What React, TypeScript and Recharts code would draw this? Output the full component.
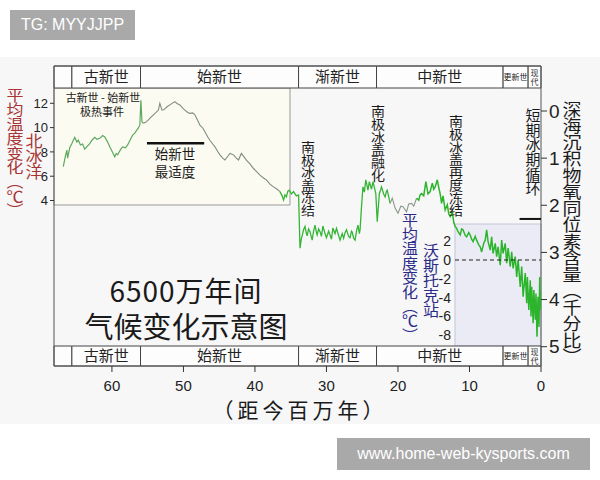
import React from 'react';
import { ComposedChart, Line, XAxis, YAxis, ReferenceArea, ReferenceLine } from 'recharts';

const CJK = "'Noto Sans CJK SC', 'Noto Sans', sans-serif";
const LATIN = "'Liberation Sans', Arial, sans-serif";

const ageTicks = [60, 50, 40, 30, 20, 10, 0];
const arcticTempTicks = [4, 6, 8, 10, 12];
const isotopeTicks = [0, 1, 2, 3, 4, 5];
const vostokTicks = [2, 0, -2, -4, -6, -8];

// geologic epochs (million years ago)
const epochs = [
  { name: '', from: 68.1, to: 65.6 },
  { name: '古新世', from: 65.6, to: 56 },
  { name: '始新世', from: 56, to: 33.9 },
  { name: '渐新世', from: 33.9, to: 23 },
  { name: '中新世', from: 23, to: 5.3 },
  { name: '更新世', from: 5.3, to: 1.8 },
  { name: '现代', from: 1.8, to: 0 },
];

// deep-sea d18O, [age Ma, per mil]
const paleoceneCurve: [number, number][] = [
  [66.8, 1.18], [66.5, 0.95], [66.3, 0.83], [66.2, 1.0], [65.9, 0.78], [65.6, 0.69], [65.4, 0.62],
  [65.2, 0.56], [64.9, 0.66], [64.7, 0.62], [64.4, 0.72], [64.1, 0.7], [63.8, 0.81], [63.4, 0.74],
  [63.1, 0.69], [62.8, 0.62], [62.4, 0.56], [62.1, 0.6], [61.7, 0.58], [61.3, 0.52], [61.0, 0.55],
  [60.6, 0.66], [60.3, 0.76], [59.9, 0.88], [59.6, 0.97], [59.4, 0.9], [59.2, 0.93], [58.8, 0.82],
  [58.5, 0.76], [58.1, 0.78], [57.8, 0.72], [57.4, 0.6], [57.1, 0.51], [56.8, 0.47], [56.5, 0.4],
  [56.3, 0.36], [56.1, 0.3], [55.95, -0.23], [55.8, 0.23], [55.6, 0.26],
];

const eoceneCurve: [number, number][] = [
  [55.6, 0.26], [55.3, 0.24], [54.9, 0.19], [54.6, 0.14], [54.2, 0.08], [53.9, 0.04], [53.5, -0.02],
  [53.3, -0.16], [53.0, -0.02], [52.8, -0.02], [52.5, -0.06], [52.3, -0.09], [51.8, -0.14],
  [51.2, -0.2], [50.9, -0.16], [50.5, -0.13], [50.1, -0.06], [49.8, -0.02], [49.4, 0.03], [49.1, 0.05],
  [48.7, 0.04], [48.4, 0.08], [48.0, 0.2], [47.7, 0.3], [47.3, 0.36], [47.0, 0.44], [46.6, 0.55],
  [46.3, 0.62], [45.9, 0.7], [45.6, 0.76], [45.2, 0.86], [44.9, 0.93], [44.5, 1.0], [44.2, 1.04],
  [43.8, 0.96], [43.5, 0.9], [43.0, 0.93], [42.6, 1.0], [42.3, 1.04], [41.9, 0.9], [41.5, 0.98],
  [41.2, 1.04], [40.7, 1.12], [40.2, 1.22], [39.8, 1.28], [39.3, 1.36], [38.8, 1.42], [38.4, 1.46],
  [37.9, 1.55], [37.4, 1.61], [36.9, 1.66], [36.5, 1.71],
];

const oligoceneCurve: [number, number][] = [
  [36.5, 1.71], [36.2, 1.8], [36.0, 1.89], [35.8, 1.78], [35.6, 1.82], [35.4, 1.7], [35.2, 1.68],
  [34.9, 1.76], [34.6, 1.71], [34.2, 1.8], [33.9, 1.78], [33.7, 2.91], [33.5, 2.7], [33.4, 2.65],
  [33.2, 2.52], [33.0, 2.45], [32.8, 2.6], [32.7, 2.65], [32.5, 2.5], [32.3, 2.56], [32.1, 2.68],
  [32.0, 2.74], [31.8, 2.55], [31.6, 2.42], [31.4, 2.58], [31.3, 2.63], [31.1, 2.5], [30.9, 2.56],
  [30.7, 2.66], [30.5, 2.44], [30.2, 2.6], [30.0, 2.69], [29.7, 2.55], [29.5, 2.63], [29.3, 2.72],
  [29.1, 2.48], [28.8, 2.6], [28.6, 2.49], [28.3, 2.64], [28.1, 2.74], [27.8, 2.6], [27.6, 2.7],
  [27.4, 2.58], [27.2, 2.52], [26.9, 2.66], [26.7, 2.69], [26.5, 2.55], [26.4, 2.57], [26.2, 2.7],
  [26.0, 2.74], [25.8, 2.55], [25.6, 2.42], [25.4, 2.6], [25.3, 2.52], [25.1, 2.03], [24.9, 1.61],
  [24.7, 1.72], [24.5, 1.46], [24.3, 1.6], [24.2, 1.68], [24.0, 1.5], [23.9, 1.55], [23.7, 1.66],
  [23.5, 1.5], [23.3, 1.62], [23.1, 1.75], [22.9, 2.35], [22.6, 1.75], [22.4, 1.66], [22.3, 1.61],
  [22.0, 1.76], [21.8, 1.82], [21.6, 1.7], [21.5, 1.68], [21.1, 1.96],
];

const earlyMioceneCurve: [number, number][] = [
  [21.1, 1.96], [20.8, 1.85], [20.4, 2.06], [20.0, 2.17], [19.6, 2.02], [19.3, 2.03], [18.8, 2.14],
  [18.5, 1.97], [18.1, 1.96], [17.8, 2.02], [17.4, 1.85],
];

const neogeneCurve: [number, number][] = [
  [17.4, 1.85], [17.1, 1.89], [16.9, 1.78], [16.7, 1.75], [16.4, 1.8], [16.1, 1.5], [15.8, 1.76],
  [15.5, 1.71], [15.2, 1.53], [15.0, 1.66], [14.8, 1.61], [14.5, 1.46], [14.3, 1.62], [14.1, 1.76],
  [13.9, 1.96], [13.7, 1.8], [13.4, 2.1], [13.1, 1.99], [12.9, 2.18], [12.7, 2.24], [12.4, 2.14],
  [12.2, 2.36], [12.0, 2.45], [11.8, 2.49], [11.6, 2.56], [11.3, 2.63], [11.1, 2.5], [10.9, 2.52],
  [10.6, 2.64], [10.4, 2.67], [10.1, 2.58], [9.9, 2.63], [9.7, 2.72], [9.5, 2.77], [9.2, 2.66],
  [9.0, 2.74], [8.7, 2.84], [8.5, 2.88], [8.3, 2.99], [8.0, 2.8], [7.8, 2.74], [7.6, 2.52],
  [7.4, 2.77], [7.1, 2.95], [6.9, 2.67], [6.7, 3.02], [6.4, 2.81], [6.2, 3.09], [6.0, 2.88],
  [5.7, 3.27], [5.5, 2.74], [5.3, 3.02], [5.0, 2.81], [4.8, 3.23], [4.6, 2.91], [4.3, 3.3],
  [4.1, 2.99], [3.9, 3.34], [3.6, 3.09], [3.4, 3.52], [3.2, 3.16], [2.9, 3.73], [2.7, 3.3],
  [2.5, 3.94], [2.2, 3.44], [2.0, 4.08], [1.9, 3.52], [1.7, 4.22], [1.5, 3.59], [1.4, 4.36],
  [1.3, 3.73], [1.1, 4.5], [1.0, 3.8], [0.8, 4.43], [0.7, 3.87], [0.56, 4.79], [0.42, 3.94],
  [0.28, 4.58], [0.18, 3.52], [0.1, 4.22], [0.0, 3.86],
];

const toPoints = (seg: [number, number][]) => seg.map(([age, v]) => ({ age, v }));

const bandLabel = (name: string) => (props: any) => {
  const vb = props.viewBox || {};
  const cx = vb.x + vb.width / 2;
  const cy = vb.y + vb.height / 2;
  if (!name) return null;
  if (name === '现代') {
    return (
      <g fontSize={8} fontFamily={CJK} fill="#333">
        <text x={cx} y={cy - 1} textAnchor="middle">现</text>
        <text x={cx} y={cy + 7.5} textAnchor="middle">代</text>
      </g>
    );
  }
  const small = vb.width < 40;
  return (
    <text x={cx} y={cy + (small ? 3 : 5)} textAnchor="middle" fontSize={small ? 8 : 15}
      fontFamily={CJK} fill="#222">{name}</text>
  );
};

// vertical CJK text; squash = vertical compression of the glyphs
const VTxt = ({ x, y, size, color = '#1a1a1a', squash = 1, children }: any) => (
  <div style={{
    position: 'absolute', left: x, top: y, transform: `translateX(-50%) scaleY(${squash})`,
    transformOrigin: 'top center', writingMode: 'vertical-rl', fontSize: size, lineHeight: 1,
    fontFamily: CJK, color, whiteSpace: 'nowrap',
  }}>{children}</div>
);

const Txt = ({ x, y, size, color = '#1a1a1a', spacing = 0, children }: any) => (
  <div style={{
    position: 'absolute', left: x, top: y, transform: 'translate(-50%, -50%)',
    fontSize: size, lineHeight: 1, letterSpacing: spacing, fontFamily: CJK, color, whiteSpace: 'nowrap',
  }}>{children}</div>
);

const tickFont = { fontSize: 15, fill: '#222', fontFamily: LATIN };

export default function App() {
  return (
    <div style={{ position: 'absolute', left: 0, top: 0, width: 600, height: 480, background: '#fff', overflow: 'hidden' }}>
      <div style={{ position: 'absolute', left: 0, top: 57, width: 600, height: 367, background: '#f7f7f8' }} />

      <ComposedChart width={600} height={480} margin={{ top: 66, right: 29, bottom: 74, left: 20 }}
        style={{ position: 'absolute', left: 0, top: 0 }}>
        <XAxis xAxisId="age" dataKey="age" type="number" domain={[0, 68.1]} reversed allowDataOverflow
          ticks={ageTicks} interval={0} height={40} axisLine={false} tickSize={6} tickMargin={8}
          tickLine={{ stroke: '#333' }} tick={tickFont} />
        <YAxis yAxisId="temp" orientation="left" type="number" domain={[-9.62, 15.07]} allowDataOverflow
          ticks={arcticTempTicks} interval={0} width={34} axisLine={false} tickSize={4} tickMargin={2}
          tickLine={{ stroke: '#333' }} tick={{ fontSize: 13, fill: '#222', fontFamily: LATIN }} />
        <YAxis yAxisId="d18o" orientation="right" type="number" domain={[-0.955, 5.41]} reversed allowDataOverflow
          ticks={isotopeTicks} interval={0} width={30} axisLine={false} tickSize={6} tickMargin={2}
          tickLine={{ stroke: '#333' }} tick={{ fontSize: 19, fill: '#222', fontFamily: LATIN }} />
        <YAxis yAxisId="frame" orientation="right" type="number" domain={[0, 300]} reversed hide width={0}
          allowDataOverflow />

        <ReferenceArea xAxisId="age" yAxisId="frame" x1={68.1} x2={35.1} y1={22} y2={139}
          fill="#fbfbf1" fillOpacity={1} stroke="#9a9a9a" strokeWidth={1} />
        <ReferenceArea xAxisId="age" yAxisId="frame" x1={12.03} x2={0} y1={158} y2={280}
          fill="#ebebf6" fillOpacity={1} stroke="#c4c4d4" strokeWidth={1} />

        <Line xAxisId="age" yAxisId="d18o" data={toPoints(paleoceneCurve)} dataKey="v" type="linear"
          stroke="#5ea85e" strokeWidth={1.2} dot={false} isAnimationActive={false} />
        <Line xAxisId="age" yAxisId="d18o" data={toPoints(eoceneCurve)} dataKey="v" type="linear"
          stroke="#7f8c7f" strokeWidth={1.1} dot={false} isAnimationActive={false} />
        <Line xAxisId="age" yAxisId="d18o" data={toPoints(oligoceneCurve)} dataKey="v" type="linear"
          stroke="#35b535" strokeWidth={1.3} dot={false} isAnimationActive={false} />
        <Line xAxisId="age" yAxisId="d18o" data={toPoints(earlyMioceneCurve)} dataKey="v" type="linear"
          stroke="#8a9a8a" strokeWidth={1.1} dot={false} isAnimationActive={false} />
        <Line xAxisId="age" yAxisId="d18o" data={toPoints(neogeneCurve)} dataKey="v" type="linear"
          stroke="#2cb52c" strokeWidth={1.5} dot={false} isAnimationActive={false} />

        <ReferenceLine xAxisId="age" yAxisId="d18o" segment={[{ x: 55.1, y: 0.685 }, { x: 47.1, y: 0.685 }]}
          stroke="#111" strokeWidth={2.5} />
        <ReferenceLine xAxisId="age" yAxisId="d18o" segment={[{ x: 3.0, y: 2.29 }, { x: 0, y: 2.29 }]}
          stroke="#111" strokeWidth={2} />

        {epochs.map((e) => (
          <ReferenceArea key={'t' + e.from} xAxisId="age" yAxisId="frame" x1={e.from} x2={e.to} y1={0} y2={22}
            fill="#fdfdfd" fillOpacity={1} stroke="#444" strokeWidth={1} label={bandLabel(e.name)} />
        ))}
        {epochs.map((e) => (
          <ReferenceArea key={'b' + e.from} xAxisId="age" yAxisId="frame" x1={e.from} x2={e.to} y1={280} y2={300}
            fill="#fdfdfd" fillOpacity={1} stroke="#444" strokeWidth={1} label={bandLabel(e.name)} />
        ))}
        <ReferenceArea xAxisId="age" yAxisId="frame" x1={68.1} x2={0} y1={0} y2={300}
          fill="none" fillOpacity={0} stroke="#555" strokeWidth={1} />
      </ComposedChart>

      <ComposedChart width={126} height={122} data={[{ age: 12 }, { age: 0 }]}
        margin={{ top: 0, right: 0, bottom: 0, left: 0 }}
        style={{ position: 'absolute', left: 415, top: 224 }}>
        <XAxis dataKey="age" type="number" domain={[0, 12.03]} reversed hide height={0} />
        <YAxis type="number" domain={[-9.15, 3.83]} allowDataOverflow ticks={vostokTicks} interval={0} width={40}
          axisLine={false} tickLine={false} tickSize={0} tickMargin={4}
          tick={{ fontSize: 14, fill: '#222', fontFamily: LATIN }} />
        <ReferenceLine y={0} stroke="#222" strokeDasharray="4 3" strokeWidth={1} />
      </ComposedChart>

      <VTxt x={15} y={88} size={17} squash={0.85} color="#a83434">平均温度变化（℃）</VTxt>
      <VTxt x={34} y={133} size={17} squash={0.92} color="#a83434">北冰洋</VTxt>
      <VTxt x={572} y={101} size={19} squash={0.87}>深海沉积物氧同位素含量（千分比）</VTxt>
      <VTxt x={410} y={213} size={16} squash={0.9} color="#2b2b88">平均温度变化（℃）</VTxt>
      <VTxt x={431} y={243} size={16} squash={0.94} color="#2b2b88">沃斯托克站</VTxt>

      <VTxt x={308} y={141} size={14} squash={0.9}>南极冰盖冻结</VTxt>
      <VTxt x={378} y={105} size={14} squash={0.91}>南极冰盖融化</VTxt>
      <VTxt x={456} y={115} size={14} squash={0.91}>南极冰盖再度冻结</VTxt>
      <VTxt x={533} y={108} size={15} squash={0.98}>短期冰期循环</VTxt>

      <Txt x={103} y={97} size={11}>古新世 - 始新世</Txt>
      <Txt x={102} y={111} size={11}>极热事件</Txt>
      <Txt x={175} y={154} size={13.5}>始新世</Txt>
      <Txt x={175} y={172} size={13.5}>最适度</Txt>

      <Txt x={186} y={290} size={28} spacing={1}>6500万年间</Txt>
      <Txt x={186} y={325} size={29}>气候变化示意图</Txt>

      <Txt x={300} y={409} size={21} spacing={4}>（距今百万年）</Txt>

      <div style={{
        position: 'absolute', left: 10, top: 10, width: 125, height: 30, background: '#a9a9a9',
        color: '#fff', fontFamily: LATIN, fontSize: 16, lineHeight: '30px', textAlign: 'center',
      }}>TG: MYYJJPP</div>
      <div style={{
        position: 'absolute', left: 337, top: 438, width: 253, height: 32, background: '#a9a9a9',
        color: '#fff', fontFamily: LATIN, fontSize: 16, lineHeight: '32px', textAlign: 'center',
      }}>www.home-web-kysports.com</div>
    </div>
  );
}
